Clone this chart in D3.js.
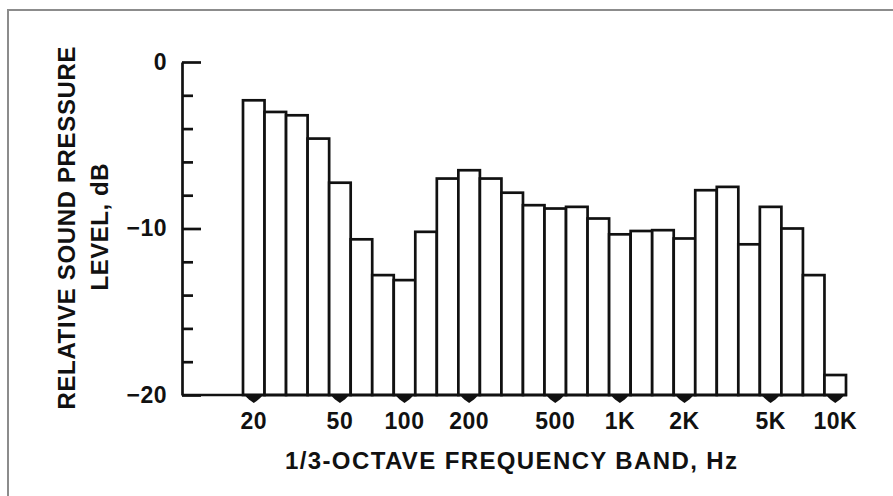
<!DOCTYPE html>
<html>
<head>
<meta charset="utf-8">
<script src="https://cdn.jsdelivr.net/npm/d3@7"></script>
<style>
  body { margin: 0; background: #fff; }
  svg { display: block; font-family: "Liberation Sans", Arial, sans-serif; }
</style>
</head>
<body>
<div id="container"></div>
<script>
/* DATA */
const bands = ["20", "25", "31.5", "40", "50", "63", "80", "100", "125", "160",
  "200", "250", "315", "400", "500", "630", "800", "1K", "1.25K", "1.6K",
  "2K", "2.5K", "3.15K", "4K", "5K", "6.3K", "8K", "10K"];
const levels = [-2.3, -3.0, -3.2, -4.6, -7.25, -10.65, -12.8, -13.1, -10.2, -7.0,
  -6.5, -7.0, -7.85, -8.6, -8.8, -8.7, -9.4, -10.35, -10.15, -10.1,
  -10.6, -7.7, -7.5, -10.95, -8.7, -10.0, -12.8, -18.8];
const labelledBands = ["20", "50", "100", "200", "500", "1K", "2K", "5K", "10K"];
const majorTicks = [0, -10, -20];
const minorTicks = [-2, -4, -6, -8, -12, -14, -16, -18];

/* CONSTANTS */
const width = 893, height = 496;
const ink = "#111";

const svg = d3.select("#container")
  .append("svg")
  .attr("width", width)
  .attr("height", height);

// scanned page frame
svg.append("path")
  .attr("d", `M8,${height} V10 H${width}`)
  .attr("fill", "none")
  .attr("stroke", "#8c8c8c")
  .attr("stroke-width", 2);

/* SCALES */
const xScale = d3.scaleBand()
  .domain(bands)
  .range([243, 846])
  .padding(0);

const yScale = d3.scaleLinear()
  .domain([-20, 0])
  .range([395, 62]);

const axisX = 182;

/* BARS */
svg.append("g")
  .selectAll("rect")
  .data(bands.map((b, i) => ({ band: b, level: levels[i] })))
  .join("rect")
  .attr("x", d => xScale(d.band))
  .attr("y", d => yScale(d.level))
  .attr("width", xScale.bandwidth())
  .attr("height", d => yScale(-20) - yScale(d.level))
  .attr("fill", "#fff")
  .attr("stroke", ink)
  .attr("stroke-width", 2.7);

// baseline
svg.append("line")
  .attr("x1", axisX)
  .attr("x2", xScale.range()[1] + 1)
  .attr("y1", yScale(-20))
  .attr("y2", yScale(-20))
  .attr("stroke", ink)
  .attr("stroke-width", 2.7);

// little pointers under the labelled bands
svg.append("g")
  .selectAll("path")
  .data(labelledBands)
  .join("path")
  .attr("transform", d => `translate(${xScale(d) + xScale.bandwidth() / 2},${yScale(-20)})`)
  .attr("d", "M-9,0 C-7,3 -3,6 0,8 C3,6 7,3 9,0 Z")
  .attr("fill", ink);

/* AXES */
const yMajor = d3.axisLeft(yScale)
  .tickValues(majorTicks)
  .tickSizeInner(-19)
  .tickSizeOuter(0)
  .tickPadding(15);

const yMinor = d3.axisLeft(yScale)
  .tickValues(minorTicks)
  .tickSize(-11)
  .tickFormat("");

const gMinor = svg.append("g")
  .attr("transform", `translate(${axisX},0)`)
  .call(yMinor);
gMinor.select(".domain").remove();

const gMajor = svg.append("g")
  .attr("transform", `translate(${axisX},0)`)
  .call(yMajor);

svg.selectAll(".tick line, .domain")
  .attr("stroke", ink)
  .attr("stroke-width", 2.7);

gMajor.selectAll(".tick text")
  .attr("fill", ink)
  .attr("font-size", "23px")
  .attr("font-weight", "bold")
  .attr("letter-spacing", 0.5);

const xAxis = d3.axisBottom(xScale)
  .tickValues(labelledBands)
  .tickSize(0)
  .tickPadding(18);

const gX = svg.append("g")
  .attr("transform", `translate(0,${yScale(-20)})`)
  .call(xAxis);
gX.select(".domain").remove();
gX.selectAll(".tick text")
  .attr("fill", ink)
  .attr("font-size", "23px")
  .attr("font-weight", "bold")
  .attr("letter-spacing", 0.5);

/* TITLES */
svg.append("text")
  .attr("x", 511)
  .attr("y", 469)
  .attr("text-anchor", "middle")
  .attr("font-size", "24px")
  .attr("font-weight", "bold")
  .attr("fill", ink)
  .attr("textLength", 452)
  .attr("lengthAdjust", "spacing")
  .text("1/3-OCTAVE FREQUENCY BAND, Hz");

svg.append("text")
  .attr("transform", "translate(75,228) rotate(-90)")
  .attr("text-anchor", "middle")
  .attr("font-size", "24px")
  .attr("font-weight", "bold")
  .attr("fill", ink)
  .attr("textLength", 363)
  .attr("lengthAdjust", "spacing")
  .text("RELATIVE SOUND PRESSURE");

svg.append("text")
  .attr("transform", "translate(108,227) rotate(-90)")
  .attr("text-anchor", "middle")
  .attr("font-size", "24px")
  .attr("font-weight", "bold")
  .attr("fill", ink)
  .attr("textLength", 127)
  .attr("lengthAdjust", "spacing")
  .text("LEVEL, dB");
</script>
</body>
</html>
